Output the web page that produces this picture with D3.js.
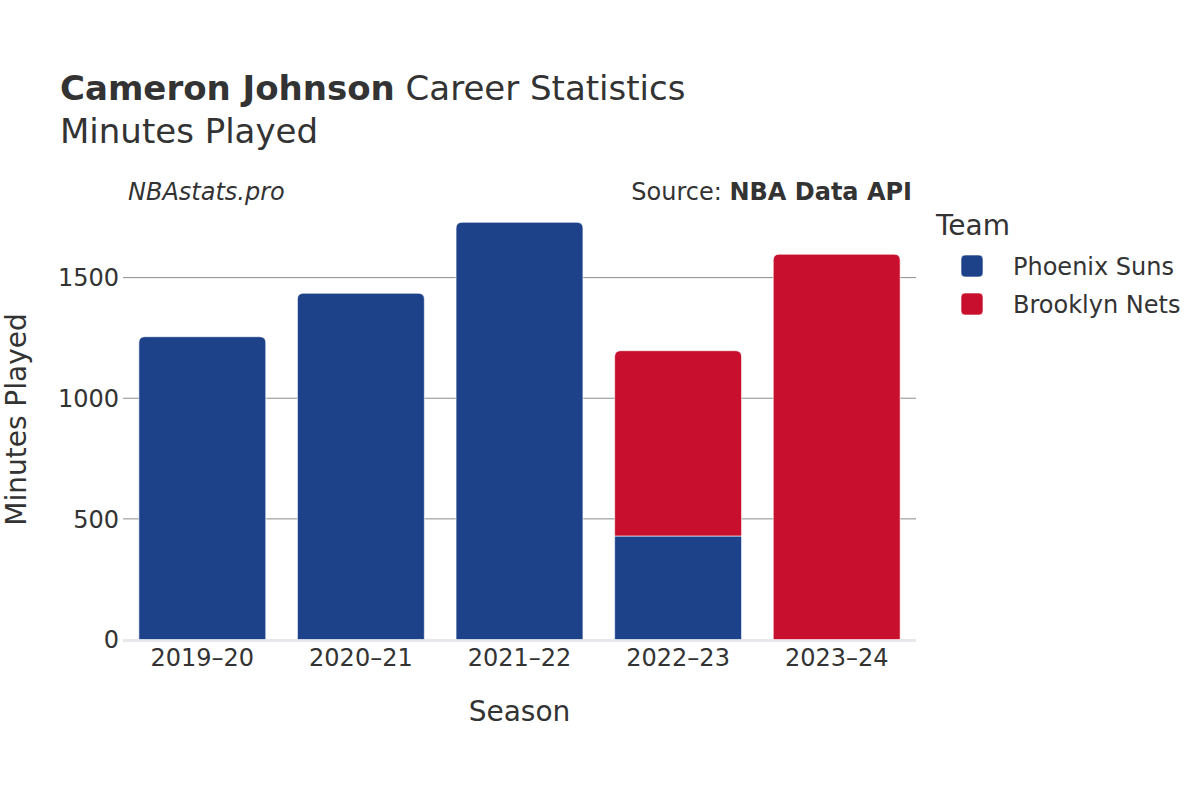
<!DOCTYPE html>
<html>
<head>
<meta charset="utf-8">
<script src="https://cdn.jsdelivr.net/npm/d3@7"></script>
<style>
  html, body { margin: 0; padding: 0; background: #fff; }
  svg { display: block; font-family: "DejaVu Sans", sans-serif; }
</style>
</head>
<body>
<svg id="chart" width="1200" height="800"></svg>
<script>
const seasons = ["2019–20", "2020–21", "2021–22", "2022–23", "2023–24"];
const teams = ["Phoenix Suns", "Brooklyn Nets"];
const teamColors = ["#1D428A", "#C8102E"];
const phoenixMinutes = [1255, 1435, 1729, 429, 0];
const brooklynMinutes = [0, 0, 0, 768, 1597];
const yTicks = [0, 500, 1000, 1500];

const svg = d3.select("#chart");
const plot = { left: 123, right: 916, top: 201.5, bottom: 639.5 };

const x = d3.scaleBand().domain(seasons).range([plot.left, plot.right]).paddingInner(0.2).paddingOuter(0.1);
const totals = seasons.map((s, i) => phoenixMinutes[i] + brooklynMinutes[i]);
const y = d3.scaleLinear().domain([0, d3.max(totals) * 1.05]).range([plot.bottom, plot.top]);
const color = d3.scaleOrdinal().domain(teams).range(teamColors);

// gridlines
svg.append("g").selectAll("line").data(yTicks.filter(d => d > 0)).join("line")
  .attr("x1", plot.left).attr("x2", plot.right)
  .attr("y1", d => y(d)).attr("y2", d => y(d))
  .attr("stroke", "#8c8c8c").attr("stroke-width", 1);

// zero line
svg.append("line").attr("x1", plot.left).attr("x2", plot.right)
  .attr("y1", y(0) + 1).attr("y2", y(0) + 1)
  .attr("stroke", "#e8e8ec").attr("stroke-width", 3);

// y tick labels
svg.append("g").selectAll("text").data(yTicks).join("text")
  .attr("x", plot.left - 4).attr("y", d => y(d))
  .attr("dy", "0.36em").attr("text-anchor", "end")
  .attr("font-size", 24).attr("fill", "#333")
  .text(d => d);

// x tick labels
svg.append("g").selectAll("text").data(seasons).join("text")
  .attr("x", d => x(d) + x.bandwidth() / 2).attr("y", 666)
  .attr("text-anchor", "middle").attr("font-size", 24).attr("fill", "#333")
  .text(d => d);

// stacked bars
const stackData = seasons.map((s, i) => ({ season: s, "Phoenix Suns": phoenixMinutes[i], "Brooklyn Nets": brooklynMinutes[i] }));
const series = d3.stack().keys(teams)(stackData);

function barPath(x0, w, yTop, yBot, r) {
  const h = yBot - yTop;
  r = Math.min(r, h, w / 2);
  if (r <= 0) return `M${x0},${yBot}V${yTop}H${x0 + w}V${yBot}Z`;
  return `M${x0},${yBot}V${yTop + r}Q${x0},${yTop} ${x0 + r},${yTop}H${x0 + w - r}Q${x0 + w},${yTop} ${x0 + w},${yTop + r}V${yBot}Z`;
}

series.forEach((ser, si) => {
  svg.append("g").selectAll("path").data(ser.filter(d => d[1] - d[0] > 0)).join("path")
    .attr("d", (d, i) => {
      const idx = seasons.indexOf(d.data.season);
      const isTop = Math.abs(d[1] - totals[idx]) < 1e-9;
      return barPath(x(d.data.season), x.bandwidth(), y(d[1]), y(d[0]), isTop ? 6 : 0);
    })
    .attr("fill", color(ser.key))
    .attr("stroke", "rgba(255,255,255,0.6)").attr("stroke-width", 1);
});

// axis titles
svg.append("text").attr("x", (plot.left + plot.right) / 2).attr("y", 721)
  .attr("text-anchor", "middle").attr("font-size", 28).attr("fill", "#333").text("Season");
svg.append("text").attr("transform", `translate(26,${(plot.top + plot.bottom) / 2 - 1}) rotate(-90)`)
  .attr("text-anchor", "middle").attr("font-size", 28).attr("fill", "#333").text("Minutes Played");

// title
const t = svg.append("text").attr("x", 60).attr("y", 100).attr("font-size", 34).attr("fill", "#333");
t.append("tspan").attr("font-weight", "bold").text("Cameron Johnson");
t.append("tspan").text(" Career Statistics");
svg.append("text").attr("x", 60).attr("y", 143).attr("font-size", 34).attr("fill", "#333").text("Minutes Played");

// annotations
svg.append("text").attr("x", 128).attr("y", 200).attr("font-size", 24).attr("font-style", "italic")
  .attr("fill", "#333").text("NBAstats.pro");
const src = svg.append("text").attr("x", 912).attr("y", 200).attr("text-anchor", "end")
  .attr("font-size", 24).attr("fill", "#333");
src.append("tspan").text("Source: ");
src.append("tspan").attr("font-weight", "bold").text("NBA Data API");

// legend
svg.append("text").attr("x", 936).attr("y", 235).attr("font-size", 28).attr("fill", "#333").text("Team");
const lg = svg.append("g").selectAll("g").data(teams).join("g")
  .attr("transform", (d, i) => `translate(961,${255 + i * 38})`);
lg.append("rect").attr("width", 22).attr("height", 22).attr("rx", 4)
  .attr("fill", d => color(d)).attr("stroke", "rgba(255,255,255,0.6)");
lg.append("text").attr("x", 52).attr("y", 11).attr("dy", "0.36em")
  .attr("font-size", 24).attr("fill", "#333").text(d => d);
</script>
</body>
</html>
